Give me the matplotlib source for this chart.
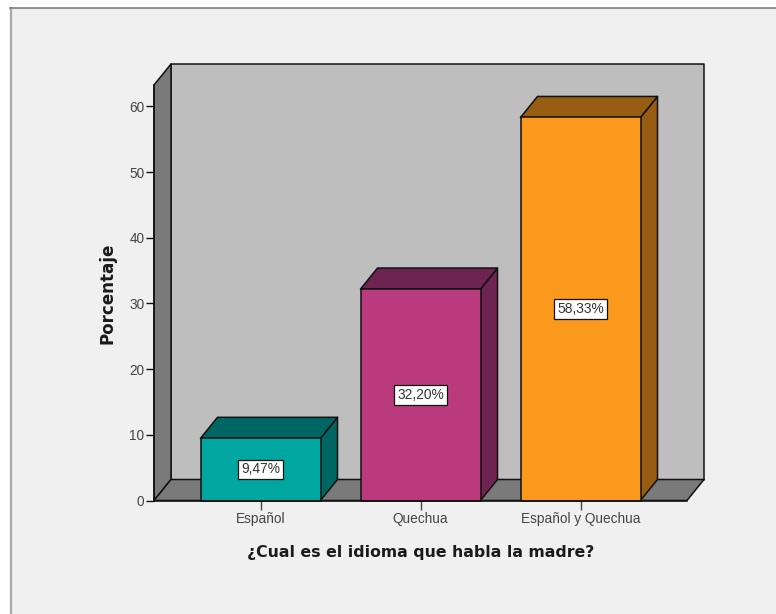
import matplotlib
matplotlib.use("Agg")
import matplotlib.pyplot as plt
from matplotlib.patches import Polygon, Rectangle
from matplotlib.lines import Line2D

categories = ["Español", "Quechua", "Español y Quechua"]
values = [9.47, 32.20, 58.33]
value_labels = ["9,47%", "32,20%", "58,33%"]
front_colors = ["#00A6A0", "#B93B7E", "#FB991D"]
shade_colors = ["#006663", "#6E2450", "#975D12"]
yticks = [0, 10, 20, 30, 40, 50, 60]

W, H = 776, 614
plt.rcParams["font.family"] = ["Liberation Sans", "DejaVu Sans"]
fig = plt.figure(figsize=(W / 100, H / 100), dpi=100, facecolor="white")

# outer panel
fig.add_artist(Rectangle((10.5 / W, 0), (W - 10.5) / W, 1 - 8 / H, transform=fig.transFigure,
                         facecolor="#F0F0F0", edgecolor="none", zorder=-3))
fig.add_artist(Line2D([11 / W, 11 / W], [0, 1 - 8 / H], transform=fig.transFigure, color="#A8A8A8", lw=1.6, zorder=-2))
fig.add_artist(Line2D([10 / W, 1], [1 - 8 / H, 1 - 8 / H], transform=fig.transFigure, color="#808080", lw=1.2, zorder=-2))

# plot axes: front face of the 3-D box
L, R, B, T = 154, 687, 500.5, 85.0
ax = fig.add_axes([L / W, 1 - B / H, (R - L) / W, (B - T) / H])
ppx = 160.0   # px per category
ppy = 6.567   # px per value unit
ax.set_xlim((L - 260.5) / ppx, (R - 260.5) / ppx)
ax.set_ylim(0, (B - T) / ppy)
ax.patch.set_alpha(0)
x0, x1 = ax.get_xlim()
y0, y1 = ax.get_ylim()
dx = 17 / ppx
dy = 21 / ppy
edge = "#111111"

def poly(pts, fc, z=1, lw=1.1):
    ax.add_patch(Polygon(pts, closed=True, facecolor=fc, edgecolor=edge, lw=lw, zorder=z,
                         clip_on=False, joinstyle="round"))

# box walls
poly([(x0 + dx, y0 + dy), (x1 + dx, y0 + dy), (x1 + dx, y1 + dy), (x0 + dx, y1 + dy)], "#BEBEBE", 1)
poly([(x0, y0), (x0 + dx, y0 + dy), (x0 + dx, y1 + dy), (x0, y1)], "#7A7A7A", 1.1)
poly([(x0, y0), (x1, y0), (x1 + dx, y0 + dy), (x0 + dx, y0 + dy)], "#7A7A7A", 1.2)

# bars
w = 0.75
for i, (v, f, s, lab) in enumerate(zip(values, front_colors, shade_colors, value_labels)):
    a, b = i - w / 2, i + w / 2
    poly([(b, 0), (b + dx, dy), (b + dx, v + dy), (b, v)], s, 2)
    poly([(a, v), (b, v), (b + dx, v + dy), (a + dx, v + dy)], s, 2)
    poly([(a, 0), (b, 0), (b, v), (a, v)], f, 3)
    ax.text(i, v / 2, lab, ha="center", va="center", fontsize=9.9, color="#333333", zorder=4,
            bbox=dict(boxstyle="square,pad=0.2", facecolor="white", edgecolor="#111111", lw=0.9))

for sp in ("top", "right"):
    ax.spines[sp].set_visible(False)
for sp in ("left", "bottom"):
    ax.spines[sp].set_color(edge)
    ax.spines[sp].set_linewidth(1.1)
    ax.spines[sp].set_zorder(5)
ax.set_xticks(range(len(categories)), categories)
ax.set_yticks(yticks)
ax.tick_params(axis="y", length=6, width=1, color=edge, labelsize=9.8, labelcolor="#444444", pad=1)
ax.tick_params(axis="x", length=6.5, width=1, color="#444444", labelsize=9.8, labelcolor="#444444", pad=1.5)

fig.text(108 / W, 1 - 293 / H, "Porcentaje", rotation=90, ha="center", va="center",
         fontsize=12.1, fontweight="bold", color="#1A1A1A", family="DejaVu Sans")
fig.text(420.5 / W, 1 - 552 / H, "¿Cual es el idioma que habla la madre?", ha="center", va="center",
         fontsize=11.3, fontweight="bold", color="#1A1A1A", family="DejaVu Sans")

fig.savefig("out.png", dpi=100, facecolor=fig.get_facecolor())
